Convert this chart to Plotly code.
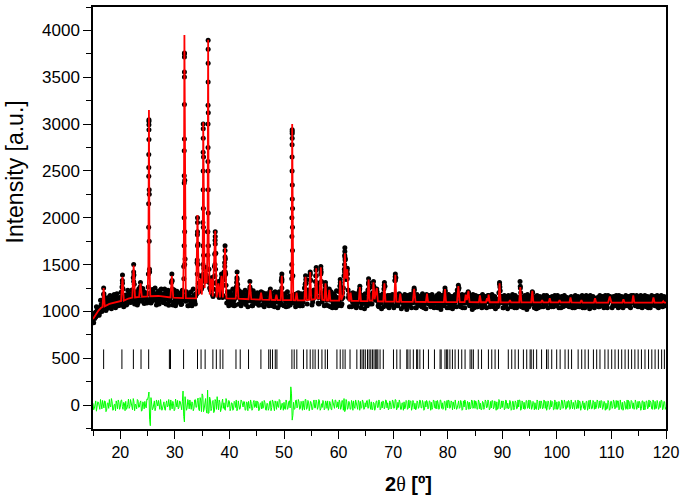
import numpy as np
import plotly.graph_objects as go

# observed pattern, one value every 0.25 deg from 15 deg
obs_start = 15.0
obs_step = 0.25
obs_int = [
    905, 958, 940, 1010, 1035, 990, 1075, 1020,
    1190, 1100, 1030, 1110, 1045, 1125, 1070, 1140,
    1060, 1150, 1085, 1130, 1065, 1160, 1240, 1090,
    1175, 1080, 1190, 1110, 1100, 1195, 1390, 1120,
    1205, 1090, 1180, 1250, 1110, 1215, 1140, 1195,
    1120, 3030, 1200, 1105, 1230, 1135, 1190, 1100,
    1215, 1125, 1240, 1150, 1095, 1200, 1130, 1225,
    1110, 1190, 1330, 1100, 1205, 1090, 1180, 1120,
    1195, 1080, 1170, 3760, 1110, 1185, 1060, 1150,
    1210, 1105, 1170, 1080, 1190, 1720, 1230, 1320,
    1260, 2650, 1320, 1390, 1850, 1450, 1230, 1300,
    1160, 1480, 1620, 1180, 1280, 1210, 1340, 1150,
    1420, 1560, 1090, 1200, 1100, 1185, 1070, 1170,
    1210, 1260, 1290, 1080, 1160, 1095, 1200, 1120,
    1075, 1180, 1120, 1260, 1170, 1060, 1195, 1110,
    1085, 1180, 1120, 1175, 1070, 1165, 1100, 1190,
    1130, 1060, 1200, 1095, 1165, 1050, 1155, 1100,
    1180, 1070, 1330, 1150, 1060, 1170, 1110, 1055,
    1165, 1140, 2920, 1090, 1180, 1160, 1075, 1150,
    1060, 1165, 1100, 1250, 1340, 1080, 1190, 1390,
    1200, 1100, 1230, 1320, 1280, 1090, 1210, 1450,
    1100, 1190, 1230, 1070, 1150, 1210, 1050, 1160,
    1080, 1175, 1040, 1150, 1070, 1270, 1060, 1200,
    1380, 1560, 1420, 1230, 1050, 1190, 1140, 1060,
    1160, 1040, 1150, 1200, 1180, 1080, 1150, 1030,
    1140, 1060, 1310, 1080, 1170, 1200, 1260, 1120,
    1240, 1060, 1150, 1090, 1160, 1050, 1270, 1080,
    1170, 1040, 1140, 1070, 1150, 1060, 1360, 1090,
    1140, 1170, 1030, 1160, 1070, 1150, 1020, 1140,
    1060, 1170, 1090, 1200, 1120, 1040, 1150, 1070,
    1160, 1050, 1140, 1080, 1030, 1170, 1080, 1140,
    1060, 1150, 1040, 1130, 1170, 1070, 1140, 1020,
    1150, 1060, 1210, 1090, 1150, 1040, 1130, 1070,
    1160, 1050, 1140, 1230, 1240, 1080, 1150, 1040,
    1130, 1160, 1090, 1210, 1060, 1150, 1020, 1140,
    1080, 1160, 1050, 1140, 1160, 1040, 1130, 1070,
    1150, 1120, 1170, 1050, 1140, 1060, 1150, 1030,
    1130, 1070, 1290, 1100, 1160, 1040, 1140, 1080,
    1030, 1150, 1110, 1060, 1150, 1040, 1130, 1070,
    1130, 1320, 1050, 1150, 1060, 1140, 1020, 1150,
    1070, 1140, 1210, 1080, 1140, 1030, 1150, 1060,
    1140, 1110, 1050, 1160, 1070, 1140, 1120, 1150,
    1050, 1140, 1060, 1150, 1080, 1130, 1110, 1040,
    1140, 1060, 1150, 1070, 1130, 1050, 1150, 1080,
    1150, 1040, 1130, 1060, 1140, 1070, 1120, 1040,
    1150, 1060, 1140, 1090, 1030, 1150, 1070, 1130,
    1140, 1070, 1150, 1050, 1130, 1060, 1140, 1080,
    1150, 1040, 1120, 1160, 1120, 1060, 1150, 1070,
    1130, 1040, 1140, 1080, 1150, 1130, 1060, 1140,
    1070, 1150, 1040, 1130, 1170, 1080, 1140, 1060,
    1150, 1050, 1130, 1080, 1140, 1060, 1150, 1040,
    1130, 1070, 1150, 1120, 1060, 1140, 1050, 1150,
    1080, 1130, 1110, 1060, 1140,
]

# observed points in between, starting at 15.125 deg
obs_mid_start = 15.125
obs_mid_int = [
    880, 985, 1050, 960, 960, 1120, 1000, 1085,
    1120, 1010, 1145, 1050, 1170, 1030, 1135, 1180,
    1040, 1190, 1060, 1150, 1205, 1330, 1050, 1170,
    1070, 1225, 1160, 1095, 1230, 1360, 1080, 1210,
    1070, 1240, 1260, 1120, 1245, 1085, 1200, 1090,
    1260, 1420, 1090, 1235, 1120, 1250, 1070, 1200,
    1080, 1230, 1175, 1095, 1240, 1080, 1195, 1065,
    1200, 1310, 1070, 1230, 1060, 1215, 1100, 1190,
    1075, 1225, 1480, 1560, 1210, 1060, 1160, 1100,
    1060, 1240, 1110, 1190, 1820, 1210, 1310, 1240,
    1950, 1330, 1450, 1360, 3120, 1250, 1290, 1180,
    1370, 1760, 1230, 1240, 1150, 1250, 1320, 1280,
    1520, 1280, 1210, 1060, 1210, 1095, 1240, 1060,
    1070, 1360, 1190, 1215, 1060, 1200, 1090, 1225,
    1180, 1050, 1210, 1230, 1060, 1220, 1090, 1180,
    1200, 1065, 1150, 1180, 1200, 1050, 1185, 1080,
    1180, 1210, 1190, 1060, 1070, 1210, 1180, 1040,
    1210, 1090, 1340, 1070, 1190, 1050, 1210, 1100,
    1070, 1420, 1380, 1180, 1050, 1180, 1200, 1060,
    1190, 1060, 1180, 1290, 1160, 1230, 1210, 1330,
    1070, 1220, 1190, 1440, 1220, 1080, 1310, 1320,
    1190, 1060, 1270, 1200, 1060, 1190, 1210, 1040,
    1190, 1070, 1220, 1060, 1210, 1240, 1080, 1250,
    1600, 1340, 1400, 1180, 1170, 1050, 1200, 1060,
    1190, 1060, 1100, 1240, 1040, 1170, 1090, 1190,
    1060, 1230, 1250, 1170, 1080, 1280, 1200, 1150,
    1180, 1050, 1170, 1030, 1190, 1280, 1080, 1160,
    1050, 1170, 1090, 1180, 1040, 1370, 1150, 1060,
    1190, 1120, 1160, 1050, 1180, 1060, 1170, 1100,
    1180, 1040, 1130, 1230, 1040, 1180, 1070, 1160,
    1060, 1190, 1040, 1160, 1180, 1140, 1170, 1050,
    1180, 1060, 1150, 1090, 1040, 1190, 1060, 1170,
    1080, 1180, 1170, 1040, 1180, 1060, 1160, 1030,
    1070, 1180, 1050, 1220, 1160, 1050, 1180, 1090,
    1040, 1180, 1130, 1180, 1160, 1070, 1180, 1040,
    1170, 1050, 1150, 1160, 1070, 1180, 1050, 1160,
    1040, 1170, 1140, 1080, 1180, 1050, 1160, 1090,
    1050, 1200, 1220, 1160, 1040, 1170, 1060, 1160,
    1170, 1120, 1050, 1180, 1060, 1170, 1040, 1150,
    1060, 1200, 1150, 1040, 1170, 1060, 1180, 1050,
    1160, 1170, 1160, 1040, 1060, 1170, 1040, 1160,
    1050, 1130, 1170, 1060, 1170, 1040, 1150, 1080,
    1160, 1050, 1170, 1060, 1170, 1040, 1120, 1160,
    1050, 1170, 1060, 1150, 1060, 1130, 1160, 1040,
    1070, 1170, 1050, 1160, 1050, 1130, 1170, 1060,
    1040, 1170, 1060, 1160, 1170, 1050, 1160, 1040,
    1060, 1140, 1050, 1170, 1070, 1160, 1040, 1170,
    1060, 1170, 1150, 1140, 1040, 1160, 1060, 1170,
    1060, 1170, 1050, 1160, 1040, 1140, 1170, 1060,
    1160, 1050, 1170, 1140, 1150, 1060, 1170, 1050,
    1060, 1170, 1040, 1160, 1170, 1050, 1160, 1060,
    1040, 1170, 1140, 1160, 1060, 1170, 1040, 1160,
    1170, 1050, 1160, 1070,
]

# observed points close to the background, starting at 15.0625 deg
obs_fill_start = 15.0625
obs_fill_int = [
    940, 925, 995, 975, 1040, 1005, 1060, 1030,
    1150, 1085, 1045, 1100, 1060, 1110, 1075, 1120,
    1120, 1080, 1130, 1090, 1135, 1260, 1095, 1145,
    1110, 1160, 1120, 1170, 1125, 1170, 1290, 1135,
    1175, 1130, 1180, 1215, 1135, 1185, 1150, 1130,
    1185, 2250, 1140, 1190, 1140, 1180, 1130, 1175,
    1145, 1190, 1130, 1180, 1175, 1135, 1180, 1140,
    1130, 1170, 1240, 1160, 1125, 1165, 1130, 1160,
    1165, 1120, 1150, 2400, 1160, 1125, 1170, 1130,
    1125, 1160, 1130, 1165, 1520, 1300, 1260, 1270,
    1360, 1460, 1360, 1330, 2600, 1310, 1260, 1240,
    1240, 1610, 1310, 1200, 1260, 1190, 1360, 1170,
    1340, 1400, 1150, 1120, 1160, 1120, 1150, 1115,
    1140, 1310, 1240, 1150, 1120, 1155, 1115, 1150,
    1150, 1110, 1145, 1240, 1110, 1150, 1115, 1140,
    1145, 1105, 1140, 1190, 1140, 1105, 1150, 1115,
    1105, 1140, 1200, 1130, 1140, 1100, 1160, 1135,
    1105, 1145, 1360, 1130, 1140, 1100, 1145, 1110,
    1140, 1105, 2100, 1140, 1100, 1190, 1140, 1105,
    1145, 1100, 1140, 1200, 1300, 1140, 1150, 1400,
    1140, 1130, 1160, 1380, 1250, 1150, 1160, 1420,
    1130, 1150, 1280, 1120, 1125, 1220, 1120, 1140,
    1100, 1140, 1105, 1135, 1100, 1310, 1130, 1150,
    1450, 1400, 1440, 1150, 1130, 1160, 1100, 1135,
    1095, 1140, 1100, 1220, 1130, 1095, 1135, 1100,
    1130, 1100, 1300, 1120, 1140, 1260, 1150, 1130,
    1210, 1095, 1130, 1100, 1125, 1240, 1120, 1095,
    1130, 1090, 1135, 1100, 1125, 1330, 1120, 1095,
    1130, 1170, 1095, 1130, 1095, 1130, 1100, 1125,
    1130, 1095, 1125, 1230, 1095, 1130, 1100, 1125,
    1130, 1095, 1125, 1090, 1120, 1150, 1095, 1130,
    1090, 1130, 1100, 1125, 1130, 1090, 1120, 1095,
    1125, 1095, 1220, 1100, 1130, 1095, 1125, 1090,
    1120, 1095, 1130, 1200, 1250, 1100, 1125, 1095,
    1120, 1170, 1110, 1200, 1095, 1125, 1090, 1130,
    1120, 1090, 1130, 1160, 1095, 1125, 1090, 1130,
    1100, 1120, 1160, 1095, 1125, 1090, 1130, 1095,
    1120, 1100, 1260, 1095, 1130, 1090, 1125, 1095,
    1120, 1115, 1090, 1125, 1095, 1130, 1090, 1120,
    1100, 1250, 1095, 1125, 1090, 1125, 1095, 1130,
    1100, 1130, 1200, 1095, 1125, 1090, 1120, 1095,
    1130, 1120, 1090, 1125, 1095, 1120, 1130, 1095,
    1125, 1090, 1130, 1095, 1120, 1095, 1120, 1090,
    1130, 1095, 1125, 1090, 1120, 1095, 1145, 1095,
    1125, 1090, 1130, 1095, 1120, 1095, 1120, 1090,
    1130, 1095, 1125, 1090, 1120, 1090, 1130, 1095,
    1135, 1090, 1125, 1095, 1130, 1095, 1120, 1090,
    1125, 1090, 1150, 1140, 1120, 1095, 1130, 1090,
    1125, 1095, 1120, 1090, 1130, 1120, 1090, 1125,
    1095, 1130, 1090, 1150, 1165, 1095, 1125, 1090,
    1130, 1095, 1120, 1090, 1125, 1090, 1130, 1095,
    1120, 1095, 1140, 1125, 1090, 1130, 1095, 1120,
    1125, 1090, 1110, 1095,
]

# extra observed points sitting on the Bragg peaks
peak_obs_theta = [
    16.95, 16.95, 20.4, 20.4, 22.45, 22.45, 22.45, 23.7, 23.7,
    25.22, 25.22, 25.22, 25.25, 25.25, 25.25, 25.25, 25.2, 25.2, 25.3, 25.3, 25.15, 25.35,
    29.45, 29.45,
    31.72, 31.72, 31.72, 31.75, 31.75, 31.75, 31.75, 31.75, 31.75, 31.7, 31.7, 31.8, 31.8, 31.65,
    34.15, 34.15, 34.15, 34.15, 34.1, 34.1, 34.2, 34.7, 34.7,
    35.2, 35.2, 35.2, 35.18, 35.18, 35.18, 35.22, 35.22, 35.15, 35.15, 35.25, 35.25,
    35.65, 35.65,
    36.1, 36.1, 36.1, 36.1, 36.08, 36.08, 36.08, 36.08, 36.12, 36.12, 36.05, 36.05, 36.15, 36.15,
    36.7, 36.7, 37.4, 37.4, 37.4, 37.4, 37.35, 37.35, 37.45, 37.45, 38.0, 38.55, 38.55,
    39.2, 39.2, 39.2, 39.15, 39.15, 39.25, 41.4, 41.4, 41.4, 43.75, 43.75, 45.8, 47.5,
    49.6, 49.6, 49.6,
    51.5, 51.5, 51.5, 51.48, 51.48, 51.48, 51.52, 51.52, 51.45, 51.45, 51.55, 51.55, 51.42, 51.42,
    53.95, 53.95, 54.8, 54.8, 55.9, 55.9, 56.75, 56.75, 57.6, 58.3, 60.3, 60.3,
    61.15, 61.15, 61.15, 61.1, 61.1, 61.2, 61.2, 61.6, 61.6,
    63.9, 65.5, 65.5, 66.4, 68.4, 70.4, 70.4, 73.85, 79.5, 81.95, 89.5, 93.3,
]
peak_obs_int = [
    1250, 1180, 1390, 1300, 1500, 1420, 1320, 1310, 1240,
    2442, 2537, 2675, 2835, 2940, 2994, 3047, 1900, 2150, 1750, 2300, 1400, 1450,
    1400, 1320,
    2371, 2449, 2715, 2842, 3209, 3503, 3556, 3716, 3751, 1700, 2000, 1850, 1500, 1350,
    2000, 1950, 1850, 1700, 1550, 1400, 1500, 1380, 1300,
    3000, 2950, 2850, 2700, 2500, 2300, 2100, 1900, 1700, 1500, 1600, 1400,
    1470, 1380,
    3896, 3800, 3650, 3450, 3200, 3000, 2750, 2500, 2300, 2050, 1850, 1600, 1700, 1450,
    1360, 1300, 1850, 1800, 1720, 1620, 1500, 1380, 1450, 1300, 1320, 1400, 1320,
    1700, 1650, 1580, 1480, 1380, 1420, 1420, 1340, 1260, 1320, 1240, 1210, 1240,
    1400, 1320, 1250,
    2940, 2900, 2850, 2780, 2650, 2500, 2350, 2200, 2000, 1800, 1900, 1650, 1500, 1350,
    1380, 1300, 1420, 1340, 1470, 1380, 1480, 1400, 1310, 1240, 1340, 1280,
    1680, 1640, 1580, 1500, 1420, 1550, 1380, 1460, 1350,
    1270, 1350, 1290, 1320, 1310, 1400, 1330, 1250, 1250, 1280, 1310, 1270,
]

# calculated profile (vertices of the fitted curve)
calc_theta = [
    15.0, 15.5, 16.0, 16.5, 16.75, 16.95, 17.15, 18.0, 19.0, 20.15, 20.4, 20.65,
    21.5, 22.2, 22.45, 22.7, 23.45, 23.7, 23.95, 25.0, 25.15, 25.25, 25.35, 25.5,
    27.0, 28.0, 29.2, 29.45, 29.7, 31.5, 31.65, 31.75, 31.85, 32.0, 33.9, 34.15,
    34.4, 34.7, 34.95, 35.1, 35.2, 35.3, 35.45, 35.65, 35.85, 36.0, 36.1, 36.2,
    36.4, 36.7, 36.95, 37.4, 37.65, 38.0, 38.25, 38.55, 38.8, 39.2, 39.45, 41.15,
    41.4, 41.65, 43.5, 43.75, 44.0, 45.6, 45.8, 46.0, 47.3, 47.5, 47.7, 48.4,
    48.6, 48.8, 49.4, 49.6, 49.8, 51.3, 51.42, 51.5, 51.58, 51.7, 52.1, 52.3,
    52.5, 53.75, 53.95, 54.15, 54.6, 54.8, 55.0, 55.7, 55.9, 56.1, 56.5, 56.75,
    57.0, 57.4, 57.6, 57.8, 58.1, 58.3, 58.5, 60.1, 60.3, 60.5, 60.9, 61.15,
    61.35, 61.6, 61.85, 62.0, 62.2, 62.4, 63.7, 63.9, 64.1, 65.3, 65.5, 65.7,
    66.2, 66.4, 66.6, 67.0, 67.2, 68.2, 68.4, 68.6, 70.2, 70.4, 70.6, 71.1,
    71.3, 71.5, 73.6, 73.85, 74.1, 76.0, 76.2, 76.4, 79.3, 79.5, 79.7, 81.7,
    81.95, 82.2, 83.1, 83.3, 83.5, 83.8, 84.0, 85.7, 85.9, 86.1, 87.0, 87.2,
    87.35, 87.5, 87.7, 89.3, 89.5, 89.7, 91.2, 91.4, 91.6, 93.1, 93.3, 93.5,
    95.3, 95.5, 95.7, 97.1, 97.3, 97.5, 98.5, 98.7, 98.9, 100.3, 100.5, 100.7,
    102.3, 102.5, 102.7, 104.3, 104.5, 104.7, 106.8, 107.0, 107.2, 109.4, 109.7, 110.0,
    112.0, 112.2, 112.4, 113.8, 114.0, 114.2, 117.5, 117.7, 117.9, 119.3, 119.5, 119.7,
    120.0,
]
calc_int = [
    920, 965, 1010, 1040, 1048, 1250, 1055, 1080, 1095, 1112, 1370, 1116,
    1138, 1148, 1490, 1150, 1155, 1300, 1157, 1160, 1500, 3150, 1500, 1162,
    1165, 1160, 1150, 1380, 1148, 1142, 1700, 3950, 1700, 1142, 1140, 2030,
    1180, 1350, 1180, 1600, 3020, 1500, 1250, 1450, 1300, 1800, 3900, 1700,
    1180, 1350, 1160, 1860, 1150, 1300, 1150, 1380, 1150, 1680, 1140, 1137,
    1400, 1137, 1130, 1300, 1130, 1126, 1200, 1126, 1124, 1230, 1124, 1122,
    1180, 1122, 1121, 1380, 1121, 1120, 1600, 3000, 1600, 1120, 1119, 1200,
    1119, 1118, 1370, 1120, 1125, 1420, 1125, 1130, 1460, 1140, 1140, 1470,
    1125, 1120, 1300, 1118, 1117, 1230, 1116, 1115, 1330, 1120, 1180, 1620,
    1350, 1450, 1120, 1115, 1200, 1113, 1112, 1260, 1111, 1110, 1340, 1115,
    1115, 1310, 1130, 1250, 1108, 1106, 1300, 1106, 1104, 1390, 1104, 1103,
    1190, 1103, 1102, 1240, 1102, 1101, 1190, 1101, 1100, 1240, 1100, 1100,
    1270, 1100, 1099, 1180, 1120, 1220, 1099, 1098, 1170, 1098, 1098, 1140,
    1110, 1180, 1098, 1098, 1300, 1098, 1097, 1120, 1097, 1097, 1260, 1097,
    1097, 1220, 1097, 1096, 1120, 1096, 1096, 1140, 1096, 1096, 1120, 1096,
    1096, 1150, 1096, 1095, 1120, 1095, 1095, 1140, 1095, 1095, 1160, 1095,
    1095, 1130, 1095, 1095, 1170, 1095, 1095, 1150, 1095, 1095, 1110, 1095,
    1095,
]

# difference curve (obs - calc) on the 0.25 deg grid ...
diff_int = [
    20, -35, 45, -10, 30, -45, 15, 50, -30, 40, -55, 25,
    60, -20, 35, -50, 10, 45, -40, 30, -25, 55, -45, 20,
    40, -30, 65, -15, 25, -50, 35, 10, -40, 50, -20, 45,
    -55, 20, 40, -30, 60, 140, -220, 35, -35, 45, -25, 30,
    50, -45, 20, -30, 35, -55, 45, -10, 20, 55, -40, 15,
    -45, 30, 50, -25, 35, -50, 150, -180, 40, -30, 25, 55,
    -45, 20, -35, 60, -20, 75, -60, 45, 120, -70, 60, -45,
    160, -80, 55, -35, 50, -65, 40, 90, -50, 30, -40, 65,
    25, -55, 45, -20, 40, -35, 20, -45, 30, 55, -40, 15,
    -30, 45, -20, 35, -50, 25, 40, -35, 20, -40, 50, -15,
    -30, 35, -50, 25, 40, -20, 30, -55, 15, -35, 45, -25,
    35, -60, 20, 40, -25, 50, -35, 15, 30, -45, 25, -30,
    45, 195, -160, 30, -40, 55, -20, 35, -35, 25, 45, -50,
    60, -30, 40, -25, 20, -45, 55, -30, 35, -20, 45, -40,
    -25, 40, -35, 25, 45, -30, 20, -50, 25, -35, 50, -20,
    -40, 30, -25, 45, 70, -55, 35, -30, 30, -40, 25, 45,
    -35, 20, -45, 30, 40, -25, 35, -40, -20, 50, -30, 25,
    35, -45, 20, -30, 45, -25, 40, -35, -30, 35, -20, 50,
    25, -40, 30, -25, 40, -30, 55, -35, -25, 30, -45, 20,
    35, -20, 40, -35, -30, 45, -25, 30, 20, -40, 35, -20,
    45, -30, 25, -45, -20, 35, -30, 40, 30, -25, 45, -35,
    -40, 20, -30, 50, 25, -35, 40, -20, -30, 45, -25, 30,
    35, -40, 20, -30, 45, -25, 30, -45, -20, 40, -35, 25,
    30, -30, 45, -20, -35, 25, -40, 35, 20, -45, 30, -25,
    40, -20, 35, -40, -30, 45, -25, 20, 35, -35, 50, -30,
    -25, 30, -40, 45, 20, -30, 35, -45, 40, -25, 30, -35,
    -20, 50, -40, 25, 30, -35, 45, -25, -40, 35, -20, 30,
    25, -45, 40, -30, -35, 20, -30, 45, 40, -25, 35, -40,
    -20, 30, -45, 25, 35, -30, 20, -35, 45, -20, 30, -40,
    -25, 40, -35, 20, 30, -45, 25, -30, -35, 35, -20, 45,
    25, -30, 40, -25, -40, 20, -35, 30, 35, -25, 45, -20,
    -30, 40, -25, 35, 20, -35, 30, -45, 40, -20, 35, -30,
    -25, 45, -40, 20, 30, -30, 25, -35, -45, 35, -20, 40,
    25, -40, 30, -25, -30, 20, -35, 45, 35, -25, 40, -30,
    -20, 30, -45, 25, 40, -35, 20, -30, -25, 45, -30, 35,
    -20,
]

# ... and on the in-between grid (15.125 deg onwards)
diff_mid_int = [
    -50, 10, -65, 35, -15, 60, -40, -5, 45, -70, 20, -35,
    -10, 70, -55, 5, -60, 15, 55, -45, 50, -15, 30, -60,
    -45, 10, -35, 60, -20, 70, -60, -5, 60, -25, 30, -65,
    35, -40, -10, 65, 90, -150, 80, -50, 20, -60, 55, -10,
    -25, 60, -55, 35, -40, 15, -20, 60, -55, -10, 40, -60,
    65, -20, -40, 45, -25, 35, -120, 90, -55, 60, -40, -20,
    35, -60, 55, -25, 50, -45, 80, -70, 100, -40, 70, -85,
    -90, 85, -60, 40, -80, 60, -45, 15, 55, -70, 25, -35,
    -45, 70, -20, 50, -60, 25, -55, 40, -25, -60, 45, -45,
    55, -15, 40, -55, 35, -60, -15, 55, -55, 30, -25, 45,
    40, -60, 15, -40, -35, 50, -50, 20, -55, 40, -60, 55,
    -20, 45, -45, -15, 60, -50, 20, -55, -40, 55, -45, 40,
    -30, 120, -110, -45, 50, -30, 60, -45, 40, -55, -25, 60,
    -45, 50, -60, 40, -50, 25, -30, 55, -45, 60, -55, 15,
    50, -50, 45, -35, -55, 40, -45, 60, -30, 55, -25, 35,
    55, -45, 50, -55, -70, 60, -45, 40, -45, 50, -55, -20,
    55, -40, 50, -55, -35, 55, -45, 25, 45, -35, 60, -45,
    -50, 30, -55, 40, -25, 55, -50, 35, 45, -40, 55, -30,
    -50, 45, -40, 55, -35, 60, -50, 30, 55, -45, 25, -55,
    -40, 50, -45, 55, 40, -55, 50, -40, -50, 45, -35, 55,
    -30, 50, -55, 40, 50, -40, 45, -55, -45, 55, -30, 45,
    50, -45, 55, -35, -45, 40, -55, 50, 55, -35, 45, -50,
    -40, 55, -45, 35, -35, 50, -55, 45, 55, -50, 40, -45,
    -40, 55, -35, 50, 45, -45, 55, -40, -50, 40, -45, 55,
    -30, 55, -50, 40, 50, -40, 45, -55, -45, 60, -40, 45,
    45, -50, 55, -35, -40, 50, -55, 40, -50, 45, -40, 55,
    55, -55, 45, -40, -45, 50, -35, 55, 50, -45, 40, -50,
    -40, 55, -50, 45, 45, -40, 55, -35, -55, 45, -45, 50,
    40, -50, 55, -45, -45, 40, -50, 55, -35, 55, -45, 40,
    50, -45, 55, -40, -45, 50, -40, 55, 45, -55, 45, -35,
    -50, 40, -55, 50, 55, -40, 50, -45, -40, 55, -35, 45,
    50, -45, 40, -55, -45, 50, -55, 40, -35, 55, -40, 50,
    45, -50, 55, -45, -55, 40, -45, 55, 50, -40, 50, -35,
    -45, 55, -45, 40, 40, -55, 45, -50, -50, 45, -40, 55,
    45, -40, 55, -45, -40, 50, -45, 40, 55, -50, 40, -45,
]

# Bragg reflection positions
bragg_theta = [
    16.95, 20.3, 22.4, 23.8, 25.2, 29.0, 29.2, 31.6, 34.15, 34.8, 35.55, 36.97,
    37.6, 38.3, 38.8, 41.2, 41.98, 43.5, 45.77, 47.2, 47.5, 47.9, 48.4, 48.7,
    51.45, 51.87, 52.35, 53.57, 54.2, 54.8, 55.3, 55.7, 56.3, 56.95, 57.55, 57.97,
    59.7, 60.3, 60.8, 61.2, 62.1, 63.35, 64.0, 64.3, 64.6, 64.9, 65.3, 65.6,
    65.9, 66.2, 66.5, 66.8, 67.0, 67.2, 67.6, 68.2, 70.06, 70.67, 71.28, 72.5,
    72.7, 73.1, 73.7, 74.3, 74.5, 74.9, 75.55, 76.47, 77.57, 78.6, 78.8, 79.5,
    79.8, 80.0, 80.4, 80.86, 81.35, 81.96, 82.57, 83.18, 84.1, 84.4, 84.7, 85.6,
    86.2, 87.46, 88.07, 88.68, 89.3, 91.1, 91.73, 92.34, 92.95, 93.87, 94.48, 95.1,
    95.3, 95.7, 96.3, 97.2, 98.1, 98.4, 99.06, 99.97, 100.6, 101.5, 102.1, 102.7,
    103.9, 104.55, 105.16, 105.77, 106.7, 107.3, 107.9, 108.8, 109.4, 110.05, 110.66, 111.27,
    111.88, 112.5, 113.1, 113.7, 114.3, 114.9, 115.5, 116.15, 116.8, 117.4, 118.0, 118.6,
    119.2, 119.7,
]
bragg_level = 490

obs_theta = obs_start + obs_step * np.arange(len(obs_int))
obs_mid_theta = obs_mid_start + obs_step * np.arange(len(obs_mid_int))
obs_fill_theta = obs_fill_start + obs_step * np.arange(len(obs_fill_int))

# merge the two difference grids into one ordered line
diff_theta = np.concatenate([obs_start + obs_step * np.arange(len(diff_int)),
                             obs_mid_start + obs_step * np.arange(len(diff_mid_int))])
diff_all = np.concatenate([diff_int, diff_mid_int])
order = np.argsort(diff_theta)
diff_theta, diff_all = diff_theta[order], diff_all[order]

fig = go.Figure()

for xs, ys in [(obs_theta, obs_int), (obs_mid_theta, obs_mid_int),
               (obs_fill_theta, obs_fill_int), (peak_obs_theta, peak_obs_int)]:
    fig.add_trace(go.Scatter(
        x=xs, y=ys, mode="markers",
        marker=dict(color="black", size=5), hoverinfo="skip",
    ))
fig.add_trace(go.Scatter(
    x=calc_theta, y=calc_int, mode="lines",
    line=dict(color="#ff0000", width=1.8),
))
fig.add_trace(go.Scatter(
    x=diff_theta, y=diff_all, mode="lines",
    line=dict(color="#00ff00", width=1),
))
fig.add_trace(go.Scatter(
    x=bragg_theta, y=[bragg_level] * len(bragg_theta), mode="markers",
    marker=dict(symbol="line-ns", size=14, line=dict(color="black", width=1)),
))

axis_common = dict(
    showline=True, linecolor="black", linewidth=1.5, mirror=True,
    ticks="outside", ticklen=8, tickwidth=1.2, tickcolor="black",
    showgrid=False, zeroline=False,
)

fig.update_layout(
    width=685, height=498,
    margin=dict(l=93, r=19, t=5, b=69),
    plot_bgcolor="white", paper_bgcolor="white",
    showlegend=False,
    xaxis=dict(range=[15, 120], tick0=0, dtick=10,
               minor=dict(ticks="outside", ticklen=5, dtick=5, tickcolor="black"),
               tickfont=dict(family="Arial, Liberation Sans", size=16, color="black"),
               **axis_common),
    yaxis=dict(range=[-255, 4250], tick0=0, dtick=500,
               minor=dict(ticks="outside", ticklen=5, dtick=250, tickcolor="black"),
               tickfont=dict(family="Arial, Liberation Sans", size=17, color="black"),
               **axis_common),
    annotations=[
        dict(text="Intensity [a.u.]", textangle=-90, xref="paper", yref="paper",
             x=-0.136, y=0.608, xanchor="center", yanchor="middle", showarrow=False,
             font=dict(family="Arial, Liberation Sans", size=23, color="black")),
        dict(text="<b>2</b><span style='font-family:Liberation Serif, serif'>θ</span> <b>[º]</b>",
             xref="paper", yref="paper",
             x=0.55, y=-0.13, xanchor="center", yanchor="middle", showarrow=False,
             font=dict(family="Arial, Liberation Sans", size=20, color="black")),
    ],
)

fig.write_html("out.html", config={"displayModeBar": False},
               post_script="document.body.style.margin='0';")
